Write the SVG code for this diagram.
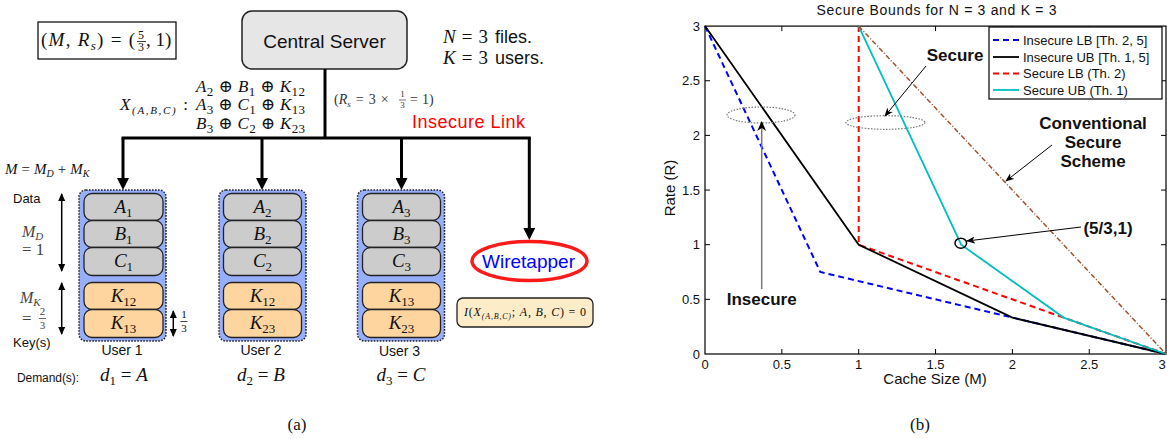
<svg xmlns="http://www.w3.org/2000/svg" width="1167" height="439" viewBox="0 0 1167 439">
<defs>
<style>
.m{font-family:"Liberation Serif","DejaVu Serif",serif;font-style:italic;fill:#111}
.u{font-style:normal}
.sans{font-family:"Liberation Sans","DejaVu Sans",sans-serif;fill:#111;font-style:normal}
.cell{font-family:"Liberation Serif","DejaVu Serif",serif;font-style:italic;font-size:19px;text-anchor:middle;fill:#111}
.sub{font-style:normal;font-size:13px}
.outer{fill:#97aefc;stroke:#222;stroke-width:1.5;stroke-dasharray:1.6 1.4}
.gray{fill:#cccccc;stroke:#222;stroke-width:1.3}
.orange{fill:#ffd59f;stroke:#222;stroke-width:1.3}
.bus{fill:none;stroke:#000;stroke-width:3}
.thin{fill:none;stroke:#000;stroke-width:1.5}
.tick{font-family:"Liberation Sans",Arial,sans-serif;font-size:13px;fill:#111}
.leg{font-family:"Liberation Sans",Arial,sans-serif;font-size:13px;fill:#111}
.bold{font-family:"Liberation Sans",Arial,sans-serif;font-size:17px;font-weight:bold;fill:#111;text-anchor:middle}
.ann{fill:none;stroke:#000;stroke-width:1}
.dim{fill:#444}
</style>
<marker id="bigArrow" viewBox="0 0 12 12" refX="6" refY="6" markerWidth="12" markerHeight="12" markerUnits="userSpaceOnUse" orient="auto">
<path d="M0,0 L12,6 L0,12 z" fill="#000"/>
</marker>
<marker id="smallArrow" viewBox="0 0 8 8" refX="7" refY="4" markerWidth="8" markerHeight="8" markerUnits="userSpaceOnUse" orient="auto-start-reverse">
<path d="M0,0.5 L8,4 L0,7.5 z" fill="#000"/>
</marker>
<marker id="annArrow" viewBox="0 0 9 8" refX="8" refY="4" markerWidth="9" markerHeight="8" markerUnits="userSpaceOnUse" orient="auto">
<path d="M0,0.5 L9,4 L0,7.5 L2.5,4 z" fill="#000"/>
</marker>
<marker id="grayArrow" viewBox="0 0 10 10" refX="9" refY="5" markerWidth="10" markerHeight="10" markerUnits="userSpaceOnUse" orient="auto">
<path d="M0,0.5 L10,5 L0,9.5 L3,5 z" fill="#000"/>
</marker>
</defs>
<rect width="1167" height="439" fill="#fff"/>

<!-- ===== Panel (a) ===== -->
<g id="params">
<rect x="38" y="22" width="138" height="37" fill="none" stroke="#000" stroke-width="1.2"/>
<text class="m" x="41" y="46" font-size="19" textLength="94" lengthAdjust="spacing"><tspan class="u">(</tspan>M<tspan class="u">, </tspan>R<tspan font-size="13" dy="4">s</tspan><tspan class="u" dy="-4">) = (</tspan></text>
<text class="m u" x="141" y="39" font-size="12" text-anchor="middle">5</text>
<line x1="137" y1="41.5" x2="146" y2="41.5" stroke="#111" stroke-width="0.8"/>
<text class="m u" x="141" y="51" font-size="12" text-anchor="middle">3</text>
<text class="m u" x="146" y="46" font-size="19">, 1)</text>
</g>

<g id="server">
<rect x="242" y="11" width="165" height="58" rx="10" fill="#e6e6e6" stroke="#222" stroke-width="1.5"/>
<text class="sans" x="324.5" y="48" font-size="19" text-anchor="middle">Central Server</text>
</g>

<g id="setup">
<text class="m" x="443" y="43" font-size="19">N<tspan class="u" dx="6">=</tspan><tspan class="u" dx="6">3</tspan><tspan class="sans" dx="7" font-size="18">files.</tspan></text>
<text class="m" x="443" y="64" font-size="19">K<tspan class="u" dx="6">=</tspan><tspan class="u" dx="6">3</tspan><tspan class="sans" dx="7" font-size="18">users.</tspan></text>
</g>

<g id="transmission">
<text class="m" x="196" y="92" font-size="17" textLength="109" lengthAdjust="spacing">A<tspan class="sub" dy="4">2</tspan><tspan class="u" dy="-4"> ⊕ </tspan>B<tspan class="sub" dy="4">1</tspan><tspan class="u" dy="-4"> ⊕ </tspan>K<tspan class="sub" dy="4">12</tspan></text>
<text class="m" x="196" y="110" font-size="17" textLength="109" lengthAdjust="spacing">A<tspan class="sub" dy="4">3</tspan><tspan class="u" dy="-4"> ⊕ </tspan>C<tspan class="sub" dy="4">1</tspan><tspan class="u" dy="-4"> ⊕ </tspan>K<tspan class="sub" dy="4">13</tspan></text>
<text class="m" x="196" y="129" font-size="17" textLength="109" lengthAdjust="spacing">B<tspan class="sub" dy="4">3</tspan><tspan class="u" dy="-4"> ⊕ </tspan>C<tspan class="sub" dy="4">2</tspan><tspan class="u" dy="-4"> ⊕ </tspan>K<tspan class="sub" dy="4">23</tspan></text>
<text class="m" x="120" y="110" font-size="17" textLength="68" lengthAdjust="spacing">X<tspan font-size="11" dy="4">(A,B,C)</tspan><tspan class="u" dy="-4"> :</tspan></text>
<text class="m" x="334" y="104" font-size="14" style="fill:#333"><tspan class="u">(</tspan>R<tspan font-size="9" dy="3">s</tspan><tspan class="u" dy="-3" dx="5">=</tspan><tspan class="u" dx="5">3</tspan><tspan class="u" dx="5">×</tspan></text>
<text class="m u" x="402.5" y="97" font-size="9" text-anchor="middle" style="fill:#333">1</text>
<line x1="399" y1="100" x2="406" y2="100" stroke="#333" stroke-width="0.7"/>
<text class="m u" x="402.5" y="108" font-size="9" text-anchor="middle" style="fill:#333">3</text>
<text class="m u" x="410" y="104" font-size="14" style="fill:#333">=<tspan dx="4">1)</tspan></text>
</g>

<g id="link-label">
<text class="sans" x="412" y="128" font-size="18" textLength="113" lengthAdjust="spacing" style="fill:#ff0000">Insecure Link</text>
</g>

<g id="connectors">
<path class="bus" d="M325,69 V138 M121.5,138 H530.8"/>
<path class="bus" d="M123,138 V184" marker-end="url(#bigArrow)"/>
<path class="bus" d="M262,138 V184" marker-end="url(#bigArrow)"/>
<path class="bus" d="M401.5,138 V184" marker-end="url(#bigArrow)"/>
<path class="bus" d="M529.3,138 V234" marker-end="url(#bigArrow)"/>
</g>

<g id="legend-left">
<text class="m" x="5" y="174" font-size="15">M<tspan class="u" dx="4">=</tspan><tspan dx="4">M</tspan><tspan font-size="10" dy="3">D</tspan><tspan class="u" dy="-3" dx="4">+</tspan><tspan dx="4">M</tspan><tspan font-size="10" dy="3">K</tspan></text>
<text class="sans" x="13" y="203" font-size="13">Data</text>
<path class="thin" d="M61.7,194 V271" marker-start="url(#smallArrow)" marker-end="url(#smallArrow)"/>
<text class="m dim" x="22" y="237" font-size="16">M<tspan font-size="11" dy="3">D</tspan></text>
<text class="m u dim" x="22" y="255" font-size="17">= 1</text>
<path class="thin" d="M61.7,283 V334" marker-start="url(#smallArrow)" marker-end="url(#smallArrow)"/>
<text class="m dim" x="20" y="303" font-size="16">M<tspan font-size="11" dy="3">K</tspan></text>
<text class="m u dim" x="22" y="324" font-size="17">=</text>
<text class="m u dim" x="42.5" y="315" font-size="11" text-anchor="middle">2</text>
<line x1="39" y1="318.5" x2="46" y2="318.5" stroke="#444" stroke-width="0.8"/>
<text class="m u dim" x="42.5" y="329" font-size="11" text-anchor="middle">3</text>
<text class="sans" x="13" y="347" font-size="13">Key(s)</text>
<text class="sans" x="17" y="382" font-size="12" textLength="62" lengthAdjust="spacing">Demand(s):</text>
<path class="thin" d="M173.3,311 V336" marker-start="url(#smallArrow)" marker-end="url(#smallArrow)"/>
<text class="m u" x="184" y="318" font-size="11" text-anchor="middle">1</text>
<line x1="180.5" y1="321.5" x2="187.5" y2="321.5" stroke="#111" stroke-width="0.8"/>
<text class="m u" x="184" y="332" font-size="11" text-anchor="middle">3</text>
</g>

<g id="user1">
<rect class="outer" x="79" y="190" width="87" height="151" rx="7"/>
<rect class="gray" x="84" y="193.5" width="79" height="27" rx="8"/>
<rect class="gray" x="84" y="220.5" width="79" height="27" rx="8"/>
<rect class="gray" x="84" y="247.5" width="79" height="28" rx="8"/>
<rect class="orange" x="84" y="282.5" width="79" height="27" rx="8"/>
<rect class="orange" x="84" y="309.5" width="79" height="28" rx="8"/>
<text class="cell" x="123.5" y="213">A<tspan class="sub" dy="4">1</tspan></text>
<text class="cell" x="123.5" y="240">B<tspan class="sub" dy="4">1</tspan></text>
<text class="cell" x="123.5" y="267">C<tspan class="sub" dy="4">1</tspan></text>
<text class="cell" x="123.5" y="302">K<tspan class="sub" dy="4">12</tspan></text>
<text class="cell" x="123.5" y="329">K<tspan class="sub" dy="4">13</tspan></text>
<text class="sans" x="122" y="355" font-size="14" text-anchor="middle">User 1</text>
<text class="m" x="124" y="381" font-size="19" text-anchor="middle">d<tspan class="sub" dy="4">1</tspan><tspan class="u" dy="-4"> = </tspan>A</text>
</g>

<g id="user2">
<rect class="outer" x="219" y="190" width="87" height="151" rx="7"/>
<rect class="gray" x="223.5" y="193.5" width="78" height="27" rx="8"/>
<rect class="gray" x="223.5" y="220.5" width="78" height="27" rx="8"/>
<rect class="gray" x="223.5" y="247.5" width="78" height="28" rx="8"/>
<rect class="orange" x="223.5" y="282.5" width="78" height="27" rx="8"/>
<rect class="orange" x="223.5" y="309.5" width="78" height="28" rx="8"/>
<text class="cell" x="262.5" y="213">A<tspan class="sub" dy="4">2</tspan></text>
<text class="cell" x="262.5" y="240">B<tspan class="sub" dy="4">2</tspan></text>
<text class="cell" x="262.5" y="267">C<tspan class="sub" dy="4">2</tspan></text>
<text class="cell" x="262.5" y="302">K<tspan class="sub" dy="4">12</tspan></text>
<text class="cell" x="262.5" y="329">K<tspan class="sub" dy="4">23</tspan></text>
<text class="sans" x="261" y="355" font-size="14" text-anchor="middle">User 2</text>
<text class="m" x="261" y="381" font-size="19" text-anchor="middle">d<tspan class="sub" dy="4">2</tspan><tspan class="u" dy="-4"> = </tspan>B</text>
</g>

<g id="user3">
<rect class="outer" x="357.5" y="190" width="87" height="151" rx="7"/>
<rect class="gray" x="362.5" y="193.5" width="78" height="27" rx="8"/>
<rect class="gray" x="362.5" y="220.5" width="78" height="27" rx="8"/>
<rect class="gray" x="362.5" y="247.5" width="78" height="28" rx="8"/>
<rect class="orange" x="362.5" y="282.5" width="78" height="27" rx="8"/>
<rect class="orange" x="362.5" y="309.5" width="78" height="28" rx="8"/>
<text class="cell" x="401.5" y="213">A<tspan class="sub" dy="4">3</tspan></text>
<text class="cell" x="401.5" y="240">B<tspan class="sub" dy="4">3</tspan></text>
<text class="cell" x="401.5" y="267">C<tspan class="sub" dy="4">3</tspan></text>
<text class="cell" x="401.5" y="302">K<tspan class="sub" dy="4">13</tspan></text>
<text class="cell" x="401.5" y="329">K<tspan class="sub" dy="4">23</tspan></text>
<text class="sans" x="399.5" y="356" font-size="14" text-anchor="middle">User 3</text>
<text class="m" x="401" y="381" font-size="19" text-anchor="middle">d<tspan class="sub" dy="4">3</tspan><tspan class="u" dy="-4"> = </tspan>C</text>
</g>

<g id="wiretapper">
<ellipse cx="529.5" cy="261" rx="57.5" ry="19.5" fill="#fff" stroke="#ff1a1a" stroke-width="3.5"/>
<text class="sans" x="528.5" y="268" font-size="19" text-anchor="middle" style="fill:#0000ff">Wiretapper</text>
</g>

<g id="secrecy">
<rect x="457" y="298" width="136" height="29" rx="6" fill="#fdecc8" stroke="#222" stroke-width="1.3"/>
<text class="m" x="464" y="316" font-size="12" textLength="122" lengthAdjust="spacing">I<tspan class="u">(</tspan>X<tspan font-size="8" dy="3">(A,B,C)</tspan><tspan class="u" dy="-3">; </tspan>A<tspan class="u">, </tspan>B<tspan class="u">, </tspan>C<tspan class="u">) = 0</tspan></text>
</g>

<text x="297" y="430" font-family="Liberation Serif, serif" font-size="17" text-anchor="middle" fill="#111">(a)</text>

<!-- ===== Panel (b) ===== -->
<g id="plot">
<text x="936.5" y="15" font-family="Liberation Sans, Arial, sans-serif" font-size="14" text-anchor="middle" fill="#111" textLength="240" lengthAdjust="spacing">Secure Bounds for N = 3 and K = 3</text>
<rect x="705" y="26.1" width="461" height="327.9" fill="#fff" stroke="#000" stroke-width="1.2"/>
<path fill="none" stroke="#000" stroke-width="1" d="M781.85,354 v-5 M858.7,354 v-5 M935.55,354 v-5 M1012.4,354 v-5 M1089.25,354 v-5 M781.85,26.1 v5 M858.7,26.1 v5 M935.55,26.1 v5 M1012.4,26.1 v5 M1089.25,26.1 v5 M705,299.35 h5 M705,244.7 h5 M705,190.05 h5 M705,135.4 h5 M705,80.75 h5 M1166,299.35 h-5 M1166,244.7 h-5 M1166,190.05 h-5 M1166,135.4 h-5 M1166,80.75 h-5"/>
<g class="tick" text-anchor="middle">
<text x="705" y="369">0</text>
<text x="781.85" y="369">0.5</text>
<text x="858.7" y="369">1</text>
<text x="935.55" y="369">1.5</text>
<text x="1012.4" y="369">2</text>
<text x="1089.25" y="369">2.5</text>
<text x="1162" y="369">3</text>
</g>
<g class="tick" text-anchor="end">
<text x="700" y="358.5">0</text>
<text x="700" y="303.8">0.5</text>
<text x="700" y="249.2">1</text>
<text x="700" y="194.5">1.5</text>
<text x="700" y="139.9">2</text>
<text x="700" y="85.2">2.5</text>
<text x="700" y="30.6">3</text>
</g>
<text x="935" y="384" font-family="Liberation Sans, Arial, sans-serif" font-size="15" text-anchor="middle" fill="#111">Cache Size (M)</text>
<text transform="translate(675,188) rotate(-90)" font-family="Liberation Sans, Arial, sans-serif" font-size="15" text-anchor="middle" fill="#111">Rate (R)</text>

<polyline fill="none" stroke="#0000ff" stroke-width="2" stroke-dasharray="6 4" points="705,26.1 820.3,272 1012.4,317.6 1166,354"/>
<polyline fill="none" stroke="#ff0000" stroke-width="2" stroke-dasharray="6 4" points="858.7,26.1 858.7,244.7 1063.6,317.6 1166,354"/>
<polyline fill="none" stroke="#000" stroke-width="1.8" points="705,26.1 858.7,244.7 1012.4,317.6 1166,354"/>
<polyline fill="none" stroke="#00bfbf" stroke-width="1.8" points="858.7,26.1 961.2,244.7 1063.6,317.6 1166,354"/>
<line x1="858.7" y1="26.1" x2="1166" y2="354" stroke="#a0522d" stroke-width="1.5" stroke-dasharray="5 2 1 2"/>

<ellipse cx="761" cy="115" rx="34" ry="8" fill="none" stroke="#777" stroke-width="1.2" stroke-dasharray="1.5 1.5"/>
<ellipse cx="885.5" cy="122.5" rx="39.5" ry="6.8" fill="none" stroke="#777" stroke-width="1.2" stroke-dasharray="1.5 1.5"/>
<ellipse cx="960.8" cy="243.2" rx="5.8" ry="5" fill="none" stroke="#000" stroke-width="1.5"/>
</g>

<g id="annotations">
<line class="ann" x1="926" y1="66" x2="885" y2="116" marker-end="url(#annArrow)"/>
<line class="ann" x1="1052" y1="145" x2="1006" y2="181" marker-end="url(#annArrow)"/>
<line class="ann" x1="1081" y1="227" x2="967" y2="241" marker-end="url(#annArrow)"/>
<line x1="761.7" y1="289" x2="761.7" y2="122" stroke="#777" stroke-width="1.5" marker-end="url(#grayArrow)"/>
<text class="bold" x="955" y="61">Secure</text>
<text class="bold" x="761.7" y="305">Insecure</text>
<text class="bold" x="1093" y="129">Conventional</text>
<text class="bold" x="1093" y="148">Secure</text>
<text class="bold" x="1093" y="166.5">Scheme</text>
<text class="bold" x="1108" y="234">(5/3,1)</text>
</g>

<g id="legend">
<rect x="989" y="27" width="173" height="72" fill="#fff" stroke="#000" stroke-width="1.2"/>
<line x1="993" y1="40" x2="1019" y2="40" stroke="#0000ff" stroke-width="2" stroke-dasharray="6 4"/>
<line x1="993" y1="57" x2="1019" y2="57" stroke="#000" stroke-width="1.8"/>
<line x1="993" y1="73.5" x2="1019" y2="73.5" stroke="#ff0000" stroke-width="2" stroke-dasharray="6 4"/>
<line x1="993" y1="90" x2="1019" y2="90" stroke="#00bfbf" stroke-width="1.8"/>
<text class="leg" x="1023" y="44.5">Insecure LB [Th. 2, 5]</text>
<text class="leg" x="1023" y="61.5">Insecure UB [Th. 1, 5]</text>
<text class="leg" x="1023" y="78">Secure LB (Th. 2)</text>
<text class="leg" x="1023" y="94.5">Secure UB (Th. 1)</text>
</g>

<text x="920" y="430" font-family="Liberation Serif, serif" font-size="17" text-anchor="middle" fill="#111">(b)</text>
</svg>
